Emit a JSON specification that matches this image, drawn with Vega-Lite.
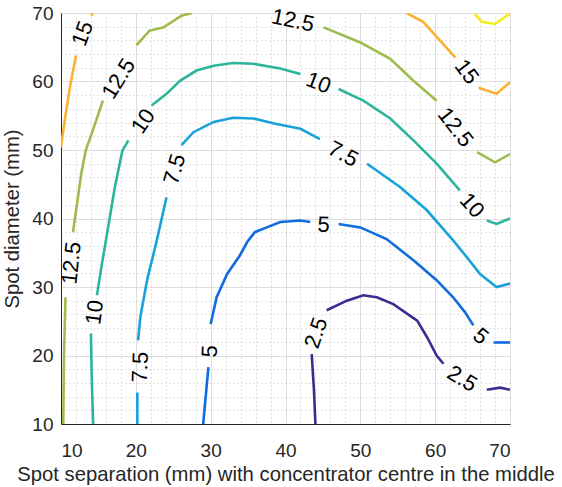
{
  "$schema": "https://vega.github.io/schema/vega-lite/v6.json",
  "autosize": {"type": "none"},
  "width": 449,
  "height": 411,
  "padding": {"left": 61, "top": 13, "right": 52, "bottom": 63},
  "background": "white",
  "config": {
    "view": {"stroke": "#262626", "strokeWidth": 1},
    "font": "Liberation Sans",
    "axis": {"labelFont": "Liberation Sans", "titleFont": "Liberation Sans", "labelColor": "#262626", "titleColor": "#262626", "titleFontWeight": "normal"}
  },
  "datasets": {
    "lines": [
      {"level": "15", "seg": "15a", "o": 1, "x": 10.0, "y": 50.4},
      {"level": "15", "seg": "15a", "o": 2, "x": 10.5, "y": 54.3},
      {"level": "15", "seg": "15a", "o": 3, "x": 11.2, "y": 59.2},
      {"level": "15", "seg": "15a", "o": 4, "x": 12.0, "y": 63.8},
      {"level": "15", "seg": "15b", "o": 1, "x": 14.0, "y": 69.6},
      {"level": "15", "seg": "15b", "o": 2, "x": 14.3, "y": 70.0},
      {"level": "15", "seg": "15c", "o": 1, "x": 56.2, "y": 70.0},
      {"level": "15", "seg": "15c", "o": 2, "x": 58.4, "y": 68.7},
      {"level": "15", "seg": "15c", "o": 3, "x": 60.2, "y": 66.5},
      {"level": "15", "seg": "15c", "o": 4, "x": 62.7, "y": 63.5},
      {"level": "15", "seg": "15d", "o": 1, "x": 65.8, "y": 59.1},
      {"level": "15", "seg": "15d", "o": 2, "x": 68.2, "y": 58.2},
      {"level": "15", "seg": "15d", "o": 3, "x": 70.0, "y": 59.9},
      {"level": "17.5", "seg": "17a", "o": 1, "x": 65.3, "y": 69.9},
      {"level": "17.5", "seg": "17a", "o": 2, "x": 66.2, "y": 68.7},
      {"level": "17.5", "seg": "17a", "o": 3, "x": 68.0, "y": 68.4},
      {"level": "17.5", "seg": "17a", "o": 4, "x": 70.0, "y": 69.9},
      {"level": "12.5", "seg": "12a", "o": 1, "x": 10.3, "y": 10.0},
      {"level": "12.5", "seg": "12a", "o": 2, "x": 10.4, "y": 20.0},
      {"level": "12.5", "seg": "12a", "o": 3, "x": 10.6, "y": 28.5},
      {"level": "12.5", "seg": "12b", "o": 1, "x": 11.6, "y": 38.0},
      {"level": "12.5", "seg": "12b", "o": 2, "x": 12.2, "y": 42.6},
      {"level": "12.5", "seg": "12b", "o": 3, "x": 12.7, "y": 46.5},
      {"level": "12.5", "seg": "12b", "o": 4, "x": 13.3, "y": 49.9},
      {"level": "12.5", "seg": "12b", "o": 5, "x": 14.1, "y": 52.4},
      {"level": "12.5", "seg": "12b", "o": 6, "x": 15.6, "y": 57.2},
      {"level": "12.5", "seg": "12c", "o": 1, "x": 20.1, "y": 65.3},
      {"level": "12.5", "seg": "12c", "o": 2, "x": 21.8, "y": 67.4},
      {"level": "12.5", "seg": "12c", "o": 3, "x": 23.7, "y": 67.9},
      {"level": "12.5", "seg": "12c", "o": 4, "x": 26.1, "y": 69.6},
      {"level": "12.5", "seg": "12c", "o": 5, "x": 27.5, "y": 70.0},
      {"level": "12.5", "seg": "12d", "o": 1, "x": 45.1, "y": 67.9},
      {"level": "12.5", "seg": "12d", "o": 2, "x": 50.0, "y": 65.7},
      {"level": "12.5", "seg": "12d", "o": 3, "x": 54.0, "y": 63.3},
      {"level": "12.5", "seg": "12d", "o": 4, "x": 57.1, "y": 60.1},
      {"level": "12.5", "seg": "12d", "o": 5, "x": 60.2, "y": 57.2},
      {"level": "12.5", "seg": "12e", "o": 1, "x": 65.6, "y": 49.7},
      {"level": "12.5", "seg": "12e", "o": 2, "x": 68.0, "y": 48.2},
      {"level": "12.5", "seg": "12e", "o": 3, "x": 70.0, "y": 49.4},
      {"level": "10", "seg": "10a", "o": 1, "x": 14.3, "y": 10.0},
      {"level": "10", "seg": "10a", "o": 2, "x": 14.1, "y": 17.0},
      {"level": "10", "seg": "10a", "o": 3, "x": 14.0, "y": 23.2},
      {"level": "10", "seg": "10b", "o": 1, "x": 14.8, "y": 28.8},
      {"level": "10", "seg": "10b", "o": 2, "x": 15.4, "y": 32.9},
      {"level": "10", "seg": "10b", "o": 3, "x": 16.0, "y": 36.8},
      {"level": "10", "seg": "10b", "o": 4, "x": 17.2, "y": 44.6},
      {"level": "10", "seg": "10b", "o": 5, "x": 18.2, "y": 49.9},
      {"level": "10", "seg": "10b", "o": 6, "x": 19.0, "y": 51.4},
      {"level": "10", "seg": "10c", "o": 1, "x": 22.1, "y": 56.5},
      {"level": "10", "seg": "10c", "o": 2, "x": 24.1, "y": 58.2},
      {"level": "10", "seg": "10c", "o": 3, "x": 25.9, "y": 60.1},
      {"level": "10", "seg": "10c", "o": 4, "x": 28.1, "y": 61.6},
      {"level": "10", "seg": "10c", "o": 5, "x": 30.4, "y": 62.3},
      {"level": "10", "seg": "10c", "o": 6, "x": 33.0, "y": 62.7},
      {"level": "10", "seg": "10c", "o": 7, "x": 35.7, "y": 62.6},
      {"level": "10", "seg": "10c", "o": 8, "x": 39.3, "y": 61.9},
      {"level": "10", "seg": "10c", "o": 9, "x": 42.0, "y": 61.1},
      {"level": "10", "seg": "10d", "o": 1, "x": 47.1, "y": 58.9},
      {"level": "10", "seg": "10d", "o": 2, "x": 50.4, "y": 57.2},
      {"level": "10", "seg": "10d", "o": 3, "x": 54.0, "y": 54.6},
      {"level": "10", "seg": "10d", "o": 4, "x": 57.1, "y": 51.4},
      {"level": "10", "seg": "10d", "o": 5, "x": 60.2, "y": 48.0},
      {"level": "10", "seg": "10d", "o": 6, "x": 63.3, "y": 44.1},
      {"level": "10", "seg": "10e", "o": 1, "x": 66.9, "y": 39.7},
      {"level": "10", "seg": "10e", "o": 2, "x": 68.2, "y": 39.2},
      {"level": "10", "seg": "10e", "o": 3, "x": 70.0, "y": 40.0},
      {"level": "7.5", "seg": "7a", "o": 1, "x": 20.2, "y": 10.0},
      {"level": "7.5", "seg": "7a", "o": 2, "x": 20.2, "y": 14.6},
      {"level": "7.5", "seg": "7b", "o": 1, "x": 20.3, "y": 22.2},
      {"level": "7.5", "seg": "7b", "o": 2, "x": 20.6, "y": 25.6},
      {"level": "7.5", "seg": "7b", "o": 3, "x": 21.5, "y": 31.0},
      {"level": "7.5", "seg": "7b", "o": 4, "x": 22.8, "y": 36.8},
      {"level": "7.5", "seg": "7b", "o": 5, "x": 24.1, "y": 43.1},
      {"level": "7.5", "seg": "7c", "o": 1, "x": 26.1, "y": 50.7},
      {"level": "7.5", "seg": "7c", "o": 2, "x": 27.7, "y": 52.6},
      {"level": "7.5", "seg": "7c", "o": 3, "x": 30.4, "y": 54.1},
      {"level": "7.5", "seg": "7c", "o": 4, "x": 33.0, "y": 54.7},
      {"level": "7.5", "seg": "7c", "o": 5, "x": 35.7, "y": 54.6},
      {"level": "7.5", "seg": "7c", "o": 6, "x": 38.8, "y": 53.8},
      {"level": "7.5", "seg": "7c", "o": 7, "x": 42.0, "y": 53.1},
      {"level": "7.5", "seg": "7c", "o": 8, "x": 44.6, "y": 51.6},
      {"level": "7.5", "seg": "7d", "o": 1, "x": 50.9, "y": 48.0},
      {"level": "7.5", "seg": "7d", "o": 2, "x": 55.3, "y": 44.6},
      {"level": "7.5", "seg": "7d", "o": 3, "x": 58.9, "y": 41.2},
      {"level": "7.5", "seg": "7d", "o": 4, "x": 62.4, "y": 36.8},
      {"level": "7.5", "seg": "7d", "o": 5, "x": 64.2, "y": 34.4},
      {"level": "7.5", "seg": "7d", "o": 6, "x": 66.0, "y": 31.9},
      {"level": "7.5", "seg": "7d", "o": 7, "x": 68.2, "y": 30.0},
      {"level": "7.5", "seg": "7d", "o": 8, "x": 70.0, "y": 30.5},
      {"level": "5", "seg": "5a", "o": 1, "x": 29.0, "y": 10.0},
      {"level": "5", "seg": "5a", "o": 2, "x": 29.7, "y": 18.3},
      {"level": "5", "seg": "5b", "o": 1, "x": 30.0, "y": 24.6},
      {"level": "5", "seg": "5b", "o": 2, "x": 30.8, "y": 28.5},
      {"level": "5", "seg": "5b", "o": 3, "x": 32.2, "y": 31.9},
      {"level": "5", "seg": "5b", "o": 4, "x": 33.9, "y": 34.6},
      {"level": "5", "seg": "5b", "o": 5, "x": 34.9, "y": 36.6},
      {"level": "5", "seg": "5b", "o": 6, "x": 35.9, "y": 38.0},
      {"level": "5", "seg": "5b", "o": 7, "x": 37.5, "y": 38.7},
      {"level": "5", "seg": "5b", "o": 8, "x": 39.3, "y": 39.5},
      {"level": "5", "seg": "5b", "o": 9, "x": 42.0, "y": 39.7},
      {"level": "5", "seg": "5b", "o": 10, "x": 43.3, "y": 39.5},
      {"level": "5", "seg": "5c", "o": 1, "x": 47.1, "y": 39.2},
      {"level": "5", "seg": "5c", "o": 2, "x": 50.0, "y": 38.7},
      {"level": "5", "seg": "5c", "o": 3, "x": 53.5, "y": 37.0},
      {"level": "5", "seg": "5c", "o": 4, "x": 57.1, "y": 33.9},
      {"level": "5", "seg": "5c", "o": 5, "x": 60.2, "y": 31.0},
      {"level": "5", "seg": "5c", "o": 6, "x": 62.4, "y": 28.5},
      {"level": "5", "seg": "5c", "o": 7, "x": 64.0, "y": 26.3},
      {"level": "5", "seg": "5c", "o": 8, "x": 65.1, "y": 24.4},
      {"level": "5", "seg": "5d", "o": 1, "x": 67.8, "y": 21.9},
      {"level": "5", "seg": "5d", "o": 2, "x": 70.0, "y": 21.9},
      {"level": "2.5", "seg": "2a", "o": 1, "x": 44.0, "y": 10.0},
      {"level": "2.5", "seg": "2a", "o": 2, "x": 43.8, "y": 15.0},
      {"level": "2.5", "seg": "2a", "o": 3, "x": 43.5, "y": 20.2},
      {"level": "2.5", "seg": "2b", "o": 1, "x": 45.5, "y": 26.6},
      {"level": "2.5", "seg": "2b", "o": 2, "x": 48.2, "y": 28.0},
      {"level": "2.5", "seg": "2b", "o": 3, "x": 50.4, "y": 28.8},
      {"level": "2.5", "seg": "2b", "o": 4, "x": 52.2, "y": 28.5},
      {"level": "2.5", "seg": "2b", "o": 5, "x": 54.4, "y": 27.5},
      {"level": "2.5", "seg": "2b", "o": 6, "x": 57.6, "y": 25.1},
      {"level": "2.5", "seg": "2b", "o": 7, "x": 58.9, "y": 22.7},
      {"level": "2.5", "seg": "2b", "o": 8, "x": 60.2, "y": 20.0},
      {"level": "2.5", "seg": "2b", "o": 9, "x": 61.1, "y": 18.8},
      {"level": "2.5", "seg": "2c", "o": 1, "x": 66.9, "y": 15.0},
      {"level": "2.5", "seg": "2c", "o": 2, "x": 68.7, "y": 15.3},
      {"level": "2.5", "seg": "2c", "o": 3, "x": 70.0, "y": 15.0}
    ],
    "labels": [
      {"label": "15", "x": 12.9, "y": 67.0, "angle": -70},
      {"label": "12.5", "x": 17.7, "y": 60.4, "angle": -58},
      {"label": "12.5", "x": 11.4, "y": 33.5, "angle": -84},
      {"label": "10", "x": 14.5, "y": 26.3, "angle": -82},
      {"label": "10", "x": 21.0, "y": 54.2, "angle": -56},
      {"label": "7.5", "x": 20.6, "y": 18.3, "angle": -88},
      {"label": "7.5", "x": 25.2, "y": 47.2, "angle": -74},
      {"label": "5", "x": 29.9, "y": 20.6, "angle": -87},
      {"label": "2.5", "x": 44.1, "y": 23.3, "angle": -71},
      {"label": "5", "x": 45.1, "y": 39.1, "angle": 2},
      {"label": "12.5", "x": 41.0, "y": 68.9, "angle": 12},
      {"label": "10", "x": 44.4, "y": 59.8, "angle": 21},
      {"label": "7.5", "x": 47.7, "y": 49.4, "angle": 28},
      {"label": "15", "x": 64.2, "y": 61.4, "angle": 53},
      {"label": "12.5", "x": 62.7, "y": 53.3, "angle": 52},
      {"label": "10", "x": 64.9, "y": 41.9, "angle": 48},
      {"label": "5", "x": 66.1, "y": 22.8, "angle": 40},
      {"label": "2.5", "x": 63.6, "y": 16.6, "angle": 31}
    ]
  },
  "layer": [
    {
      "data": {"name": "lines"},
      "mark": {"type": "line", "strokeWidth": 2.6, "clip": true},
      "encoding": {
        "x": {"field": "x", "type": "quantitative", "scale": {"domain": [10, 70], "nice": false, "zero": false},
          "axis": {"orient": "bottom", "values": [12, 14, 16, 18, 22, 24, 26, 28, 32, 34, 36, 38, 42, 44, 46, 48, 52, 54, 56, 58, 62, 64, 66, 68], "grid": true, "gridDash": [1, 3], "gridColor": "#c4c4c4", "gridWidth": 1, "labels": false, "ticks": false, "domain": false, "title": null}},
        "y": {"field": "y", "type": "quantitative", "scale": {"domain": [10, 70], "nice": false, "zero": false},
          "axis": {"orient": "left", "values": [12, 14, 16, 18, 22, 24, 26, 28, 32, 34, 36, 38, 42, 44, 46, 48, 52, 54, 56, 58, 62, 64, 66, 68], "grid": true, "gridDash": [1, 3], "gridColor": "#c4c4c4", "gridWidth": 1, "labels": false, "ticks": false, "domain": false, "title": null}},
        "color": {"field": "level", "type": "nominal", "legend": null,
          "scale": {"domain": ["2.5", "5", "7.5", "10", "12.5", "15", "17.5"], "range": ["#3b2c8f", "#0f6ce0", "#19a2da", "#2db59b", "#9ebc4e", "#fbb233", "#f5ee18"]}},
        "detail": {"field": "seg"},
        "order": {"field": "o", "type": "quantitative"}
      }
    },
    {
      "data": {"name": "labels"},
      "mark": {"type": "text", "fontSize": 22, "font": "Liberation Sans", "color": "#000000", "align": "center", "baseline": "middle"},
      "encoding": {
        "x": {"field": "x", "type": "quantitative", "scale": {"domain": [10, 70], "nice": false, "zero": false},
          "axis": {"orient": "bottom", "values": [10, 20, 30, 40, 50, 60, 70], "grid": true, "gridColor": "#dedede", "gridWidth": 1, "domainColor": "#262626", "ticks": false, "labelFontSize": 19, "labelPadding": 17, "titleFontSize": 20.3, "titlePadding": 4, "title": "Spot separation (mm) with concentrator centre in the middle"}},
        "y": {"field": "y", "type": "quantitative", "scale": {"domain": [10, 70], "nice": false, "zero": false},
          "axis": {"orient": "left", "values": [10, 20, 30, 40, 50, 60, 70], "grid": true, "gridColor": "#dedede", "gridWidth": 1, "domainColor": "#262626", "ticks": false, "labelFontSize": 19, "labelPadding": 8, "titleFontSize": 20.3, "titlePadding": 9, "title": "Spot diameter (mm)"}},
        "text": {"field": "label", "type": "nominal"},
        "angle": {"field": "angle", "type": "quantitative", "scale": null}
      }
    }
  ],
  "resolve": {"axis": {"x": "independent", "y": "independent"}}
}
